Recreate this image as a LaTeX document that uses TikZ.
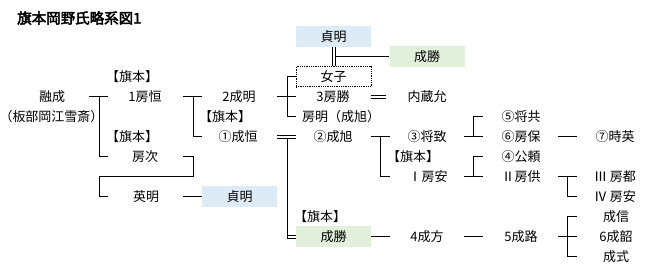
\documentclass[tikz,border=0pt]{standalone}
\usepackage{fontspec}
\setmainfont{Noto Sans CJK JP}
\newfontfamily\titlefont[FakeBold=3]{Noto Sans CJK JP}
\usetikzlibrary{positioning, calc}
\definecolor{boxBlue}{RGB}{221,235,247}
\definecolor{boxGreen}{RGB}{226,239,218}
\tikzset{
    person/.style={inner sep=0pt, font=\fontsize{13}{13}\selectfont},
    cellBox/.style={person, minimum width=75pt, minimum height=20.5pt},
    blueBox/.style={cellBox, fill=boxBlue},
    greenBox/.style={cellBox, fill=boxGreen},
    dotBox/.style={cellBox, draw, densely dotted, line width=0.8pt},
    famLine/.style={line width=1pt, black},
    dblLine/.style={double, double distance=2pt, line width=1pt}
}

\begin{document}
\begin{tikzpicture}[x=1pt, y=-1pt]
        \useasboundingbox (0,0) rectangle (662,273);

        % --- Custom Macro for Family Forks ---
        % #1 = Parent Node, #2 = Gap Column, #3 = Child Nodes
        \newcommand{\drawFork}[3]{
            \draw[famLine] (g#2 |- #1) -- (e#2 |- #1);
            \foreach \c in {#3} {
                \draw[famLine] (s#2 |- #1) |- (e#2 |- \c);
            }
        }

        % Gap columns (start, spine, end)
        \coordinate (gA) at (89,0);  \coordinate (sA) at (99,0);  \coordinate (eA) at (108,0);
        \coordinate (gB) at (183,0); \coordinate (sB) at (193,0); \coordinate (eB) at (202,0);
        \coordinate (gC) at (277,0); \coordinate (sC) at (287,0); \coordinate (eC) at (296,0);
        \coordinate (gD) at (371,0); \coordinate (sD) at (380,0); \coordinate (eD) at (390,0);
        \coordinate (gE) at (464,0); \coordinate (sE) at (473,0); \coordinate (eE) at (483,0);
        \coordinate (gF) at (558,0); \coordinate (sF) at (567,0); \coordinate (eF) at (577,0);

        % Title
        \node[anchor=west, inner sep=0pt, font=\titlefont\fontsize{14.5}{14.5}\selectfont] (title) at (17,18) {旗本岡野氏略系図1};

        % Boxes
        \node[blueBox]  (sadaakiTop) at (333.5,36.5)  {貞明};
        \node[greenBox] (katsuTop)   at (427,56.5)    {成勝};
        \node[dotBox]   (joshi)      at (333.5,76.5)  {女子};
        \node[blueBox]  (sadaakiLow) at (239.5,196.5) {貞明};
        \node[greenBox] (narikatsu)  at (333.5,236.5) {成勝};

        % People
        \node[person] (hataA)      at (132,76.5)  {【旗本】};
        \node[person] (yuusei)     at (52,96.5)   {融成};
        \node[person] (fusatsune)  at (145,96.5)  {1房恒};
        \node[person] (nariaki)    at (239,96.5)  {2成明};
        \node[person] (fusakatsu)  at (333,96.5)  {3房勝};
        \node[person] (kuranosuke) at (427,96.5)  {内蔵允};
        \node[person] (kousetsu)   at (51.5,116.5) {（板部岡江雪斎）};
        \node[person] (hataB)      at (225,116.5) {【旗本】};
        \node[person] (fusaaki)    at (341,116.5) {房明（成旭）};
        \node[person] (masatomo)   at (521,116.5) {⑤将共};
        \node[person] (hataC)      at (132,136.5) {【旗本】};
        \node[person] (naritsune)  at (238,136.5) {①成恒};
        \node[person] (nariakiB)   at (333,136.5) {②成旭};
        \node[person] (masamune)   at (427,136.5) {③将致};
        \node[person] (fusamori)   at (521,136.5) {⑥房保};
        \node[person] (tokihide)   at (615,136.5) {⑦時英};
        \node[person] (fusatsugu)  at (145,156.5) {房次};
        \node[person] (hataD)      at (413,156.5) {【旗本】};
        \node[person] (kimiyori)   at (521,156.5) {④公頼};
        \node[person] (fusayasuI)  at (428,176.5) {Ⅰ房安};
        \node[person] (fusatomo)   at (521,176.5) {Ⅱ房供};
        \node[person] (fusakuni)   at (615,176.5) {Ⅲ\kern.2em 房都};
        \node[person] (hideaki)    at (146,196.5) {英明};
        \node[person] (fusayasuIV) at (615,196.5) {Ⅳ\kern.2em 房安};
        \node[person] (hataE)      at (320,216.5) {【旗本】};
        \node[person] (narinobu)   at (616,216.5) {成信};
        \node[person] (narikata)   at (427,236.5) {4成方};
        \node[person] (narimichi)  at (521,236.5) {5成路};
        \node[person] (naritsugu)  at (616,236.5) {6成韶};
        \node[person] (narinori)   at (616,256.5) {成式};

        % Forks
        \drawFork{yuusei}{A}{fusatsune,fusatsugu}
        \drawFork{fusatsune}{B}{nariaki,naritsune}
        \drawFork{nariaki}{C}{joshi,fusakatsu,fusaaki}
        \drawFork{nariakiB}{D}{masamune,fusayasuI}
        \drawFork{masamune}{E}{masatomo,fusamori}
        \drawFork{fusayasuI}{E}{kimiyori,fusatomo}
        \drawFork{fusamori}{F}{tokihide}
        \drawFork{fusatomo}{F}{fusakuni,fusayasuIV}
        \drawFork{narikata}{E}{narimichi}
        \drawFork{narimichi}{F}{narinobu,naritsugu,narinori}

        % Fusatsugu to Hideaki
        \coordinate (bend) at (193,176.5);
        \draw[famLine] (gB |- fusatsugu) -| (bend) -- (bend -| sA) |- (eA |- hideaki);
        \draw[famLine] (gB |- hideaki) -- (sadaakiLow.west);
        \draw[famLine] (narikatsu.east) -- (eD |- narikatsu);

        % Marriages (double lines)
        \draw[dblLine] (sadaakiTop.south) -- (joshi.north);
        \coordinate (sadaDown) at ($(sadaakiTop.south)+(1.5,0)$);
        \draw[famLine] (sadaDown |- katsuTop.west) -- (katsuTop.west);
        \draw[dblLine] (gD |- fusakatsu) -- ($(eD |- fusakatsu)+(-4,0)$);
        \draw[dblLine] (gC |- naritsune) -- (eC |- naritsune);
        \draw[dblLine] (sC |- narikatsu) -- (narikatsu.west);
        \draw[famLine] ($(sC |- naritsune)+(0,1.5)$) -- ($(sC |- narikatsu)+(0,2)$);

    \end{tikzpicture}
\end{document}
